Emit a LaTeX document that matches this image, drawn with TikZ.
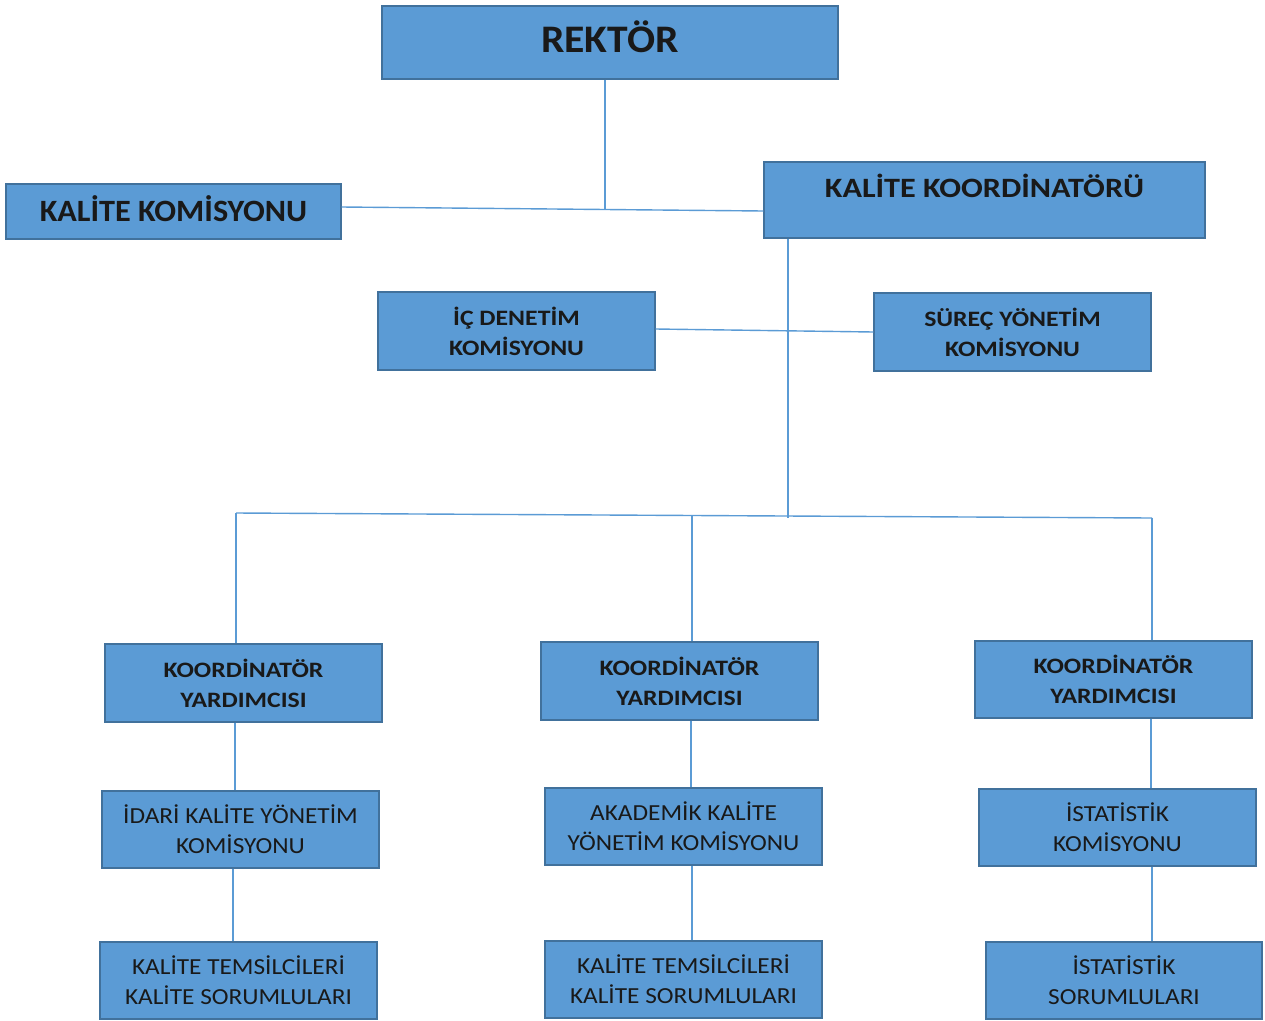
\documentclass[tikz,border=0pt]{standalone}
\usepackage{fontspec}
\setmainfont{Carlito}
\newfontfamily\famrek{Carlito}[FakeStretch=1.066]
\newfontfamily\famkk{Carlito}[FakeStretch=1.04]
\newfontfamily\famkko{Carlito}[FakeStretch=1.15]
\newfontfamily\fammidb{Carlito}[FakeStretch=1.17]
\newfontfamily\famreg{Carlito}[FakeStretch=1.1]
\definecolor{boxfill}{RGB}{91,155,213}
\definecolor{boxline}{RGB}{65,113,156}
\definecolor{conn}{RGB}{91,155,213}
\begin{document}
\begin{tikzpicture}[x=1pt,y=-1pt,
  box/.style={draw=boxline,line width=1.2pt,fill=boxfill,inner sep=0pt,align=center,text=black!90},
  bfont/.style={font=\fammidb\fontsize{22}{30}\selectfont\bfseries},
  rfont/.style={font=\famreg\fontsize{23}{30}\selectfont},
  link/.style={draw=conn,line width=1.4pt}]
\useasboundingbox (0,0) rectangle (1265,1020);
\node[box,minimum width=456pt,minimum height=73pt,font=\famrek\fontsize{39}{42}\selectfont\bfseries,text height=25pt,text depth=6pt] (rek) at (610,42.5) {REKTÖR};
\node[box,minimum width=335pt,minimum height=55pt,font=\famkk\fontsize{31}{34}\selectfont\bfseries,text height=20pt,text depth=1pt] (kk) at (173.5,211.5) {KALİTE KOMİSYONU};
\node[box,minimum width=441pt,minimum height=76pt,font=\famkko\fontsize{28}{30}\selectfont\bfseries,text height=35pt,text depth=41pt] (kko) at (984.5,200) {KALİTE KOORDİNATÖRÜ};
\node[box,bfont,minimum width=277pt,minimum height=78pt] (icd) at (516.5,331) {İÇ DENETİM\\KOMİSYONU};
\node[box,bfont,minimum width=277pt,minimum height=78pt] (sur) at (1012.5,332) {SÜREÇ YÖNETİM\\KOMİSYONU};
\node[box,bfont,minimum width=277pt,minimum height=78pt] (ky1) at (243.5,683) {KOORDİNATÖR\\YARDIMCISI};
\node[box,bfont,minimum width=277pt,minimum height=78pt] (ky2) at (679.5,681) {KOORDİNATÖR\\YARDIMCISI};
\node[box,bfont,minimum width=277pt,minimum height=77pt] (ky3) at (1113.5,679.5) {KOORDİNATÖR\\YARDIMCISI};
\node[box,rfont,minimum width=277pt,minimum height=77pt] (ikyk) at (240.5,829.5) {İDARİ KALİTE YÖNETİM\\KOMİSYONU};
\node[box,rfont,minimum width=277pt,minimum height=77pt] (akyk) at (683.5,826.5) {AKADEMİK KALİTE\\YÖNETİM KOMİSYONU};
\node[box,rfont,minimum width=277pt,minimum height=77pt] (ist) at (1117.5,827.5) {İSTATİSTİK\\KOMİSYONU};
\node[box,rfont,minimum width=277pt,minimum height=77pt] (kt1) at (238.5,980.5) {KALİTE TEMSİLCİLERİ\\KALİTE SORUMLULARI};
\node[box,rfont,minimum width=277pt,minimum height=77pt] (kt2) at (683.5,979.5) {KALİTE TEMSİLCİLERİ\\KALİTE SORUMLULARI};
\node[box,rfont,minimum width=276pt,minimum height=77pt] (ists) at (1124,980.5) {İSTATİSTİK\\SORUMLULARI};
\coordinate (j1) at (605,209);
\coordinate (j2) at (788,518);
\coordinate (b1) at (236,513);
\coordinate (b2) at (692,515.5);
\coordinate (b3) at (1152,518);
\coordinate (c1) at (235,0);
\coordinate (c2) at (233,0);
\coordinate (c3) at (691,0);
\coordinate (c4) at (692,0);
\coordinate (c5) at (1151,0);
\coordinate (c6) at (1152,0);
\draw[link] (rek.south -| j1) -- (j1);
\draw[link] ([yshift=4.5pt]kk.east) -- ([yshift=-11pt]kko.west);
\draw[link] (kko.south -| j2) -- (j2);
\draw[link] ([yshift=2pt]icd.east) -- (sur.west);
\draw[link] (b1) -- (b3);
\draw[link] (b1) -- (ky1.north -| b1);
\draw[link] (b2) -- (ky2.north -| b2);
\draw[link] (b3) -- (ky3.north -| b3);
\draw[link] (ky1.south -| c1) -- (ikyk.north -| c1);
\draw[link] (ikyk.south -| c2) -- (kt1.north -| c2);
\draw[link] (ky2.south -| c3) -- (akyk.north -| c3);
\draw[link] (akyk.south -| c4) -- (kt2.north -| c4);
\draw[link] (ky3.south -| c5) -- (ist.north -| c5);
\draw[link] (ist.south -| c6) -- (ists.north -| c6);
\end{tikzpicture}
\end{document}
